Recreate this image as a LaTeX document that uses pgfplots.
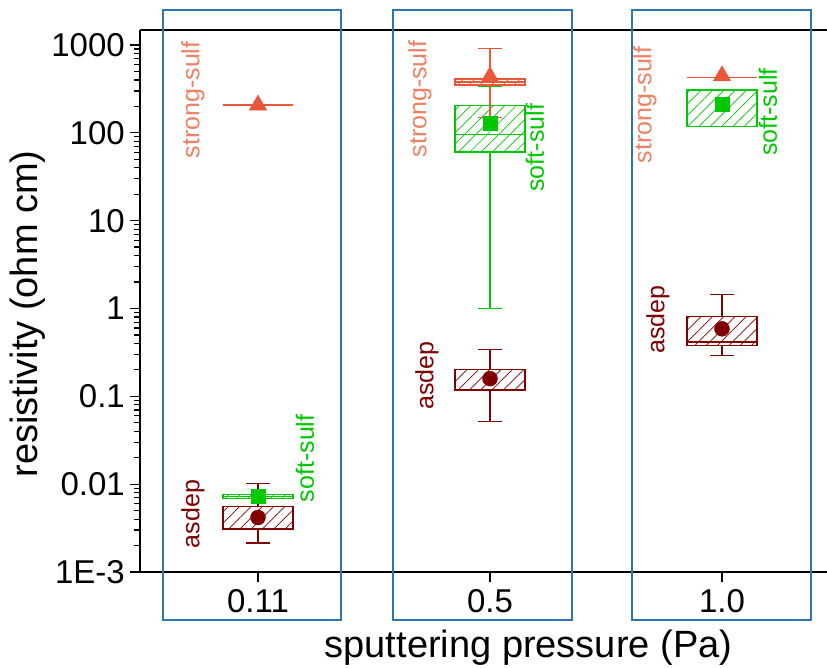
\documentclass[border=0pt]{standalone}
\usepackage{pgfplots}
\pgfplotsset{compat=1.18}
\usepgfplotslibrary{statistics}
\usetikzlibrary{patterns.meta}
\usepackage{fontspec}
\setmainfont{Liberation Sans}
\definecolor{dred}{RGB}{128,0,0}
\definecolor{sgreen}{RGB}{0,200,0}
\definecolor{sorange}{RGB}{233,87,56}
\definecolor{sotext}{RGB}{240,128,100}
\definecolor{rblue}{RGB}{46,117,182}
\begin{document}
\begin{tikzpicture}
\begin{axis}[
 name=ax, scale only axis, width=687pt, height=542pt,
 xmin=140, xmax=827, ymode=log, ymin=0.001, ymax=1481,
 axis x line*=box, axis y line*=left,
 axis line style={line width=1.3pt, black},
 clip=false,
 xtick pos=bottom, ytick pos=left,
 xtick={258,490,722}, xticklabels={0.11,0.5,1.0},
 ytick={0.001,0.01,0.1,1,10,100,1000},
 yticklabels={1E-3,0.01,0.1,1,10,100,1000},
 minor ytick={0.002,0.003,0.004,0.005,0.006,0.007,0.008,0.009,
   0.02,0.03,0.04,0.05,0.06,0.07,0.08,0.09,
   0.2,0.3,0.4,0.5,0.6,0.7,0.8,0.9,
   2,3,4,5,6,7,8,9,20,30,40,50,60,70,80,90,
   200,300,400,500,600,700,800,900},
 tick align=outside, major tick length=10pt, minor tick length=6pt,
 every tick/.style={black, line width=1.2pt},
 yticklabel style={font=\fontsize{33}{35}\selectfont, inner sep=2pt, xshift=-3pt},
 xticklabel style={font=\fontsize{33}{35}\selectfont, inner sep=2pt, yshift=-5pt},
 xlabel={sputtering pressure (Pa)}, ylabel={resistivity (ohm cm)},
 every axis x label/.style={at={(axis description cs:0.5655,-0.140)}, anchor=center, font=\fontsize{38}{40}\selectfont},
 every axis y label/.style={at={(axis description cs:-0.163,0.476)}, rotate=90, anchor=center, font=\fontsize{38}{40}\selectfont},
 boxplot/draw direction=y, boxplot/box extend=70, boxplot/whisker extend=24,
]
% asdep
\addplot[dred, line width=1.3pt, boxplot prepared={draw position=258,
  lower whisker=0.00214, lower quartile=0.00308, median=0.00308,
  upper quartile=0.00552, upper whisker=0.01026,
  every box/.style={draw, pattern={Lines[angle=45,distance=8pt,line width=0.7pt]}, pattern color=dred}}] coordinates {};
\addplot[dred, line width=1.3pt, boxplot prepared={draw position=490,
  lower whisker=0.0515, lower quartile=0.118, median=0.118,
  upper quartile=0.201, upper whisker=0.342,
  every box/.style={draw, pattern={Lines[angle=45,distance=8pt,line width=0.7pt]}, pattern color=dred}}] coordinates {};
\addplot[dred, line width=1.3pt, boxplot prepared={draw position=722,
  lower whisker=0.292, lower quartile=0.38, median=0.414,
  upper quartile=0.818, upper whisker=1.44,
  every box/.style={draw, pattern={Lines[angle=45,distance=8pt,line width=0.7pt]}, pattern color=dred}}] coordinates {};
% soft-sulf
\addplot[sgreen, line width=1.3pt, boxplot prepared={draw position=258,
  lower whisker=0.00693, lower quartile=0.00693, median=0.0073,
  upper quartile=0.00769, upper whisker=0.00769,
  every box/.style={draw, pattern={Lines[angle=45,distance=8pt,line width=0.7pt]}, pattern color=sgreen}}] coordinates {};
\addplot[sgreen, line width=1.3pt, boxplot prepared={draw position=490,
  lower whisker=1.0, lower quartile=60.5, median=95,
  upper quartile=204, upper whisker=342,
  every box/.style={draw, pattern={Lines[angle=45,distance=8pt,line width=0.7pt]}, pattern color=sgreen}}] coordinates {};
\addplot[sgreen, line width=1.3pt, boxplot prepared={draw position=722,
  lower whisker=118, lower quartile=118, median=118,
  upper quartile=308, upper whisker=308,
  every box/.style={draw, pattern={Lines[angle=45,distance=8pt,line width=0.7pt]}, pattern color=sgreen}}] coordinates {};
% strong-sulf
\addplot[sorange, line width=1.3pt, boxplot prepared={draw position=258,
  lower whisker=207, lower quartile=207, median=207,
  upper quartile=207, upper whisker=207}] coordinates {};
\addplot[sorange, line width=1.3pt, boxplot prepared={draw position=490,
  lower whisker=149, lower quartile=351, median=380,
  upper quartile=411, upper whisker=917,
  every box/.style={draw, pattern={Lines[angle=45,distance=8pt,line width=0.7pt]}, pattern color=sorange}}] coordinates {};
\addplot[sorange, line width=1.3pt, boxplot prepared={draw position=722,
  lower whisker=430, lower quartile=430, median=430,
  upper quartile=430, upper whisker=430}] coordinates {};
% means
\addplot[only marks, mark=*, mark size=7.5pt, dred] coordinates {(258,0.00418) (490,0.159) (722,0.587)};
\addplot[only marks, mark=square*, mark size=7pt, sgreen] coordinates {(258,0.00736) (490,128) (722,214)};
\addplot[only marks, mark=triangle*, mark size=10pt, sorange] coordinates {(258,207) (490,436) (722,446)};
% labels
\node[rotate=90, text=sotext, font=\fontsize{25}{25}\selectfont] at (axis cs:193,237) {strong-sulf};
\node[rotate=90, text=sotext, font=\fontsize{25}{25}\selectfont] at (axis cs:420,243) {strong-sulf};
\node[rotate=90, text=sotext, font=\fontsize{25}{25}\selectfont] at (axis cs:645,208) {strong-sulf};
\node[rotate=90, text=sgreen, font=\fontsize{25}{25}\selectfont] at (axis cs:305,0.0197) {soft-sulf};
\node[rotate=90, text=sgreen, font=\fontsize{25}{25}\selectfont] at (axis cs:535,67.6) {soft-sulf};
\node[rotate=90, text=sgreen, font=\fontsize{25}{25}\selectfont] at (axis cs:768,173) {soft-sulf};
\node[rotate=90, text=dred, font=\fontsize{25}{25}\selectfont] at (axis cs:193,0.00456) {asdep};
\node[rotate=90, text=dred, font=\fontsize{25}{25}\selectfont] at (axis cs:427,0.173) {asdep};
\node[rotate=90, text=dred, font=\fontsize{25}{25}\selectfont] at (axis cs:658,0.75) {asdep};
% blue frames
\draw[rblue, line width=2pt] ([yshift=20pt]axis cs:163,1481) rectangle ([yshift=-48pt]axis cs:341,0.001);
\draw[rblue, line width=2pt] ([yshift=20pt]axis cs:393,1481) rectangle ([yshift=-48pt]axis cs:572,0.001);
\draw[rblue, line width=2pt] ([yshift=20pt]axis cs:632,1481) rectangle ([yshift=-48pt]axis cs:811,0.001);
\end{axis}
\pgfresetboundingbox
\path ([shift={(-140pt,-95pt)}]ax.south west) rectangle ([yshift=30pt]ax.north east);
\end{tikzpicture}
\end{document}
